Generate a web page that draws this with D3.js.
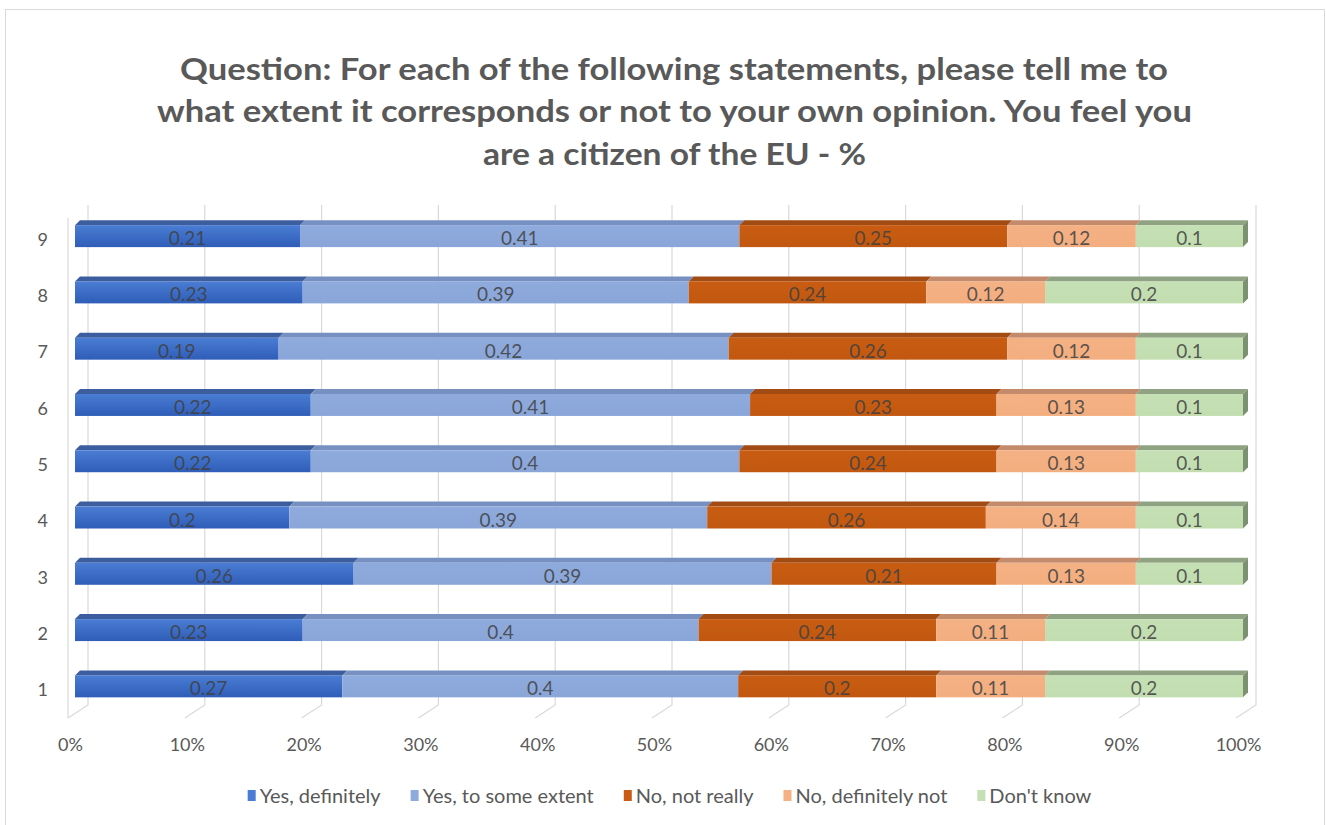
<!DOCTYPE html>
<html>
<head>
<meta charset="utf-8">
<script src="https://cdn.jsdelivr.net/npm/d3@7"></script>
<style>
  body { margin: 0; background: #fff; }
  svg { display: block; }
  text { font-family: Lato, "Liberation Sans", sans-serif; }
</style>
</head>
<body>
<svg id="chart" width="1326" height="825"></svg>
<script>
// ---- data ----
const categories = ["1", "2", "3", "4", "5", "6", "7", "8", "9"];
const seriesNames = ["Yes, definitely", "Yes, to some extent", "No, not really", "No, definitely not", "Don't know"];
const yesDefinitely   = [0.27, 0.23, 0.26, 0.2, 0.22, 0.22, 0.19, 0.23, 0.21];
const yesSomeExtent   = [0.4, 0.4, 0.39, 0.39, 0.4, 0.41, 0.42, 0.39, 0.41];
const noNotReally     = [0.2, 0.24, 0.21, 0.26, 0.24, 0.23, 0.26, 0.24, 0.25];
const noDefinitelyNot = [0.11, 0.11, 0.13, 0.14, 0.13, 0.13, 0.12, 0.12, 0.12];
const dontKnow        = [0.2, 0.2, 0.1, 0.1, 0.1, 0.1, 0.1, 0.2, 0.1];
const xTicks = [0, 0.1, 0.2, 0.3, 0.4, 0.5, 0.6, 0.7, 0.8, 0.9, 1];
const titleLines = [
  "Question: For each of the following statements, please tell me to",
  "what extent it corresponds or not to your own opinion. You feel you",
  "are a citizen of the EU - %"
];

// ---- styles ----
const frontTop    = ["#4A7DD3", "#8FAADC", "#C85C12", "#F4B183", "#C5E0B4"];
const frontBottom = ["#2F5DB8", "#8AA6D9", "#C25810", "#F3AE80", "#C2DEB1"];
const topColors   = ["#3D5E9E", "#7690C2", "#A24B12", "#C48A6C", "#8FA383"];
const sideColor = "#7C9170";

const svg = d3.select("#chart");
const defs = svg.append("defs");
seriesNames.forEach((s, i) => {
  const g = defs.append("linearGradient").attr("id", "g" + i)
    .attr("x1", 0).attr("y1", 0).attr("x2", 0).attr("y2", 1);
  g.append("stop").attr("offset", "0%").attr("stop-color", frontTop[i]);
  g.append("stop").attr("offset", "100%").attr("stop-color", frontBottom[i]);
});

// border
svg.append("rect").attr("x", 5.5).attr("y", 9.5).attr("width", 1319).attr("height", 830)
  .attr("fill", "none").attr("stroke", "#D9D9D9").attr("stroke-width", 1);

// title
const title = svg.append("g");
const titleY = [80, 122, 165];
const titleSpan = [[180, 1168], [157, 1192], [483, 866]];
titleLines.forEach((t, i) => {
  title.append("text").attr("x", (titleSpan[i][0] + titleSpan[i][1]) / 2).attr("y", titleY[i])
    .attr("text-anchor", "middle").attr("font-size", 30).attr("font-weight", "bold")
    .attr("fill", "#595959")
    .attr("textLength", titleSpan[i][1] - titleSpan[i][0])
    .attr("lengthAdjust", "spacingAndGlyphs")
    .text(t);
});

// scales
const x = d3.scaleLinear().domain([0, 1]).range([75, 1243]);
const y = d3.scaleBand().domain(categories.slice().reverse())
  .range([208, 714.5]).paddingInner(0.61).paddingOuter(0.305);

const depth = { dx: 5, dy: -5 };
const back = { dx: 13, top: 205, bottom: 705 };
const floorFront = { dx: -7, y: 718 };

// gridlines (back wall + floor)
const grid = svg.append("g").attr("stroke", "#D9D9D9").attr("fill", "none").attr("stroke-width", 1.2);
xTicks.forEach(t => {
  const bx = x(t) + back.dx, fx = x(t) + floorFront.dx;
  grid.append("path").attr("d", `M${bx},${back.top}L${bx},${back.bottom}L${fx},${floorFront.y}`);
});
grid.append("line").attr("x1", x(0) + floorFront.dx).attr("x2", x(0) + floorFront.dx)
  .attr("y1", back.top + 13).attr("y2", floorFront.y);

// stack
const rows = categories.map((c, i) => ({
  cat: c,
  "Yes, definitely": yesDefinitely[i],
  "Yes, to some extent": yesSomeExtent[i],
  "No, not really": noNotReally[i],
  "No, definitely not": noDefinitelyNot[i],
  "Don't know": dontKnow[i]
}));
const stacked = d3.stack().keys(seriesNames).offset(d3.stackOffsetExpand)(rows);

const bars = svg.append("g");
stacked.forEach((layer, si) => {
  const g = bars.append("g");
  layer.forEach(d => {
    const y0 = y(d.data.cat), h = y.bandwidth();
    const x0 = x(d[0]), x1 = x(d[1]);
    g.append("path")
      .attr("d", `M${x0},${y0}L${x0 + depth.dx},${y0 + depth.dy}L${x1 + depth.dx},${y0 + depth.dy}L${x1},${y0}Z`)
      .attr("fill", topColors[si]);
    g.append("rect").attr("x", x0).attr("y", y0).attr("width", x1 - x0).attr("height", h)
      .attr("fill", `url(#g${si})`);
    if (si === seriesNames.length - 1) {
      g.append("path")
        .attr("d", `M${x1},${y0}L${x1 + depth.dx},${y0 + depth.dy}L${x1 + depth.dx},${y0 + h + depth.dy}L${x1},${y0 + h}Z`)
        .attr("fill", sideColor);
    }
    g.append("text")
      .attr("x", (x0 + x1) / 2).attr("y", y0 + h / 2 + 9)
      .attr("text-anchor", "middle").attr("font-size", 19).attr("fill", "#404040")
      .attr("fill-opacity", 0.85)
      .text(d.data[seriesNames[si]]);
  });
});

// axes
const xLab = d3.scaleLinear().domain([0, 1]).range([x(0) - 5, x(1) - 5]);
const xAxis = svg.append("g").attr("transform", "translate(0,735)")
  .call(d3.axisBottom(xLab).tickValues(xTicks).tickSize(0).tickPadding(3).tickFormat(d3.format(".0%")));
xAxis.select(".domain").remove();
xAxis.selectAll("text").attr("font-size", 18).attr("fill", "#595959")
  .style("font-family", "Lato, 'Liberation Sans', sans-serif");

const yAxis = svg.append("g").attr("transform", "translate(48,4)")
  .call(d3.axisLeft(y).tickSize(0).tickPadding(0));
yAxis.select(".domain").remove();
yAxis.selectAll("text").attr("font-size", 18).attr("fill", "#595959")
  .style("font-family", "Lato, 'Liberation Sans', sans-serif");

// legend
const legend = svg.append("g");
let lx = 0;
seriesNames.forEach((s, i) => {
  const it = legend.append("g");
  it.append("rect").attr("x", 0).attr("y", -6).attr("width", 8).attr("height", 11).attr("fill", frontTop[i]);
  const t = it.append("text").attr("x", 12).attr("y", 7).attr("font-size", 20).attr("fill", "#595959").text(s);
  const w = 12 + t.node().getComputedTextLength();
  it.attr("transform", `translate(${lx},0)`);
  lx += w + 30;
});
const totalW = lx - 30;
legend.attr("transform", `translate(${669.5 - totalW / 2},796)`);
</script>
</body>
</html>
